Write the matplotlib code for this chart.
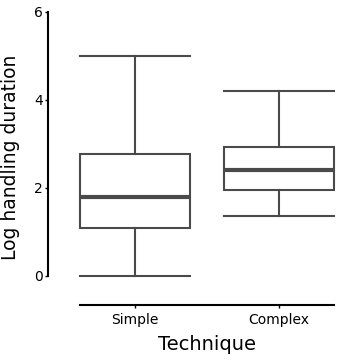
import matplotlib
matplotlib.use("Agg")
import matplotlib.pyplot as plt

# values
techniques = ["Simple", "Complex"]
whisker_low = [0.0, 1.36]
q1 = [1.09, 1.95]
median = [1.80, 2.41]
q3 = [2.77, 2.93]
whisker_high = [5.0, 4.2]
y_ticks = [0, 2, 4, 6]

line_col = "#4a4a4a"

stats = []
for i, name in enumerate(techniques):
    stats.append({
        "label": name,
        "whislo": whisker_low[i],
        "q1": q1[i],
        "med": median[i],
        "q3": q3[i],
        "whishi": whisker_high[i],
        "fliers": [],
    })

fig = plt.figure(figsize=(3.4, 3.62), dpi=100)
ax = fig.add_axes([0.2276, 0.2315, 0.7624, 0.7354])

ax.bxp(
    stats,
    positions=[0, 1],
    widths=0.76,
    showfliers=False,
    patch_artist=True,
    boxprops=dict(facecolor="white", edgecolor=line_col, linewidth=1.5),
    whiskerprops=dict(color=line_col, linewidth=1.5),
    capprops=dict(color=line_col, linewidth=1.5),
    medianprops=dict(color=line_col, linewidth=3),
    capwidths=0.76,
)

ax.set_xlim(-0.4, 1.4)
ax.set_ylim(-0.05, 6)
ax.set_xticks([0, 1])
ax.set_xticklabels(techniques, fontsize=11.5)
ax.set_yticks(y_ticks)
ax.set_yticklabels([str(t) for t in y_ticks], fontsize=8)

for s in ["top", "right"]:
    ax.spines[s].set_visible(False)
ax.spines["left"].set_position(("outward", 21))
ax.spines["bottom"].set_position(("outward", 19))
ax.spines["left"].set_bounds(0, 6)
ax.spines["bottom"].set_bounds(-0.38, 1.38)
ax.spines["left"].set_linewidth(1.5)
ax.spines["bottom"].set_linewidth(1.5)
ax.tick_params(axis="y", length=2, width=1, pad=2)
ax.tick_params(axis="x", length=2, width=1, pad=4)

ax.set_xlabel("Technique", fontsize=14, labelpad=6)
ax.set_ylabel("Log handling duration", fontsize=13.5)
ax.yaxis.set_label_coords(-0.222, 0.455)

fig.savefig("out.png", dpi=100)
